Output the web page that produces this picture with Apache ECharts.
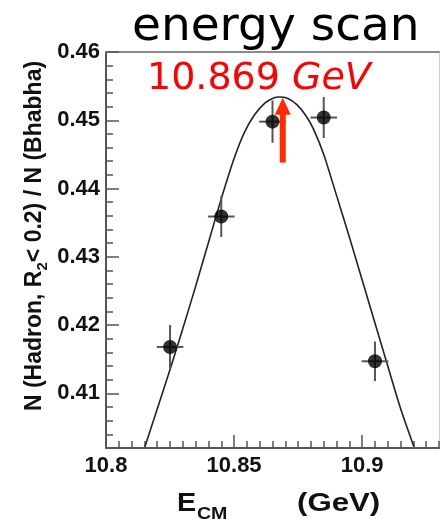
<!DOCTYPE html>
<html><head><meta charset="utf-8">
<script src="https://cdn.jsdelivr.net/npm/echarts@6/dist/echarts.min.js"></script>
<style>html,body{margin:0;padding:0;background:#fff}#c{width:440px;height:521px}</style>
</head><body><div id="c"></div>
<script>
// measured points
const energies = [10.825, 10.845, 10.865, 10.885, 10.905];
const ratios = [0.4168, 0.4359, 0.4498, 0.4504, 0.4147];
const ratioErr = [0.0032, 0.0030, 0.0031, 0.0030, 0.0029];
const energyErr = [0.0052, 0.0052, 0.0052, 0.0052, 0.0052];
// fit curve
const fitX = [10.8152, 10.8200, 10.8250, 10.8300, 10.8350, 10.8400, 10.8450, 10.8500, 10.8540, 10.8580, 10.8620, 10.8650, 10.8677, 10.8710, 10.8745, 10.8780, 10.8810, 10.8850, 10.8900, 10.8950, 10.9000, 10.9050, 10.9100, 10.9150, 10.9202];
const fitY = [0.4022, 0.4077, 0.4135, 0.4195, 0.4257, 0.4321, 0.4385, 0.4444, 0.4482, 0.4508, 0.4525, 0.4532, 0.4534, 0.4532, 0.4523, 0.4507, 0.4487, 0.4450, 0.4390, 0.4329, 0.4266, 0.4203, 0.4140, 0.4078, 0.4022];
// peak marker
const peakEnergy = 10.869;
const arrowRange = [0.4438, 0.4533];
// ticks
const xTickValues = [10.8, 10.85, 10.9];
const yTickValues = [0.41, 0.42, 0.43, 0.44, 0.45, 0.46];
const xRange = [10.8, 10.93];
const yRange = [0.402, 0.46];

const chart = echarts.init(document.getElementById('c'), null, {renderer: 'canvas'});
const labelFont = {fontFamily: '"Liberation Sans", Arial, sans-serif', fontWeight: 'bold', fontSize: 22, color: '#111'};
const tickColor = '#555';

const option = {
  animation: false,
  backgroundColor: '#fff',
  grid: {left: 106, right: 1, top: 52, bottom: 73, show: false},
  xAxis: [
    {type: 'value', min: xRange[0], max: xRange[1], position: 'bottom',
      axisLine: {onZero: false, lineStyle: {color: tickColor, width: 2}},
      axisTick: {inside: true, length: 13, customValues: xTickValues, lineStyle: {color: tickColor, width: 1.5}},
      axisLabel: Object.assign({customValues: xTickValues, margin: 7, formatter: v => String(+(+v).toFixed(3))}, labelFont),
      splitLine: {show: false}},
    {type: 'value', min: xRange[0], max: xRange[1], interval: 0.005, position: 'bottom',
      axisLine: {show: false},
      axisTick: {inside: true, length: 7, lineStyle: {color: tickColor, width: 1.5}},
      axisLabel: {show: false}, splitLine: {show: false}},
    {type: 'value', min: xRange[0], max: xRange[1], position: 'top',
      axisLine: {onZero: false, lineStyle: {color: '#8a8a8a', width: 2}},
      axisTick: {show: false}, axisLabel: {show: false}, splitLine: {show: false}}
  ],
  yAxis: [
    {type: 'value', min: yRange[0], max: yRange[1], position: 'left',
      axisLine: {onZero: false, lineStyle: {color: tickColor, width: 2}},
      axisTick: {inside: true, length: 13, customValues: yTickValues, lineStyle: {color: tickColor, width: 1.5}},
      axisLabel: Object.assign({customValues: yTickValues, margin: 6, formatter: v => (+v).toFixed(2)}, labelFont),
      splitLine: {show: false}},
    {type: 'value', min: yRange[0], max: yRange[1], interval: 0.002, position: 'left',
      axisLine: {show: false},
      axisTick: {inside: true, length: 7, lineStyle: {color: tickColor, width: 1.5}},
      axisLabel: {show: false}, splitLine: {show: false}},
    {type: 'value', min: yRange[0], max: yRange[1], position: 'right',
      axisLine: {onZero: false, lineStyle: {color: '#cfcfcf', width: 1}},
      axisTick: {show: false}, axisLabel: {show: false}, splitLine: {show: false}}
  ],
  series: [
    {type: 'line', xAxisIndex: 0, yAxisIndex: 0, data: fitX.map((x, i) => [x, fitY[i]]),
      showSymbol: false, smooth: 0.25, lineStyle: {color: '#222', width: 1.6}, z: 2, clip: true},
    {type: 'custom', xAxisIndex: 0, yAxisIndex: 0,
      data: energies.map((x, i) => [x, ratios[i], energyErr[i], ratioErr[i]]),
      encode: {x: 0, y: 1},
      renderItem: (params, api) => {
        const x = api.value(0), y = api.value(1), xe = api.value(2), ye = api.value(3);
        const l = api.coord([x - xe, y]), r = api.coord([x + xe, y]);
        const t = api.coord([x, y + ye]), b = api.coord([x, y - ye]);
        const style = {stroke: '#555', lineWidth: 2};
        return {type: 'group', children: [
          {type: 'line', shape: {x1: l[0], y1: l[1], x2: r[0], y2: r[1]}, style},
          {type: 'line', shape: {x1: t[0], y1: t[1], x2: b[0], y2: b[1]}, style}
        ]};
      }, z: 3},
    {type: 'scatter', xAxisIndex: 0, yAxisIndex: 0, data: energies.map((x, i) => [x, ratios[i]]),
      symbolSize: 14, itemStyle: {color: '#000'}, z: 4},
    {type: 'custom', xAxisIndex: 0, yAxisIndex: 0,
      data: [[peakEnergy, arrowRange[0], arrowRange[1]]],
      encode: {x: 0, y: [1, 2]},
      renderItem: (params, api) => {
        const base = api.coord([api.value(0), api.value(1)]);
        const tip = api.coord([api.value(0), api.value(2)]);
        const headH = 17, headW = 16, shaftW = 6;
        const color = '#ff2a00';
        return {type: 'group', children: [
          {type: 'rect', shape: {x: base[0] - shaftW / 2, y: tip[1] + headH - 1, width: shaftW, height: base[1] - tip[1] - headH + 1}, style: {fill: color}},
          {type: 'polygon', shape: {points: [[tip[0], tip[1]], [tip[0] + headW / 2, tip[1] + headH], [tip[0] - headW / 2, tip[1] + headH]]}, style: {fill: color}}
        ]};
      }, z: 5}
  ],
  graphic: [
    {type: 'text', x: 132, y: 28, style: {text: 'energy scan', font: '47px "DejaVu Sans", sans-serif', fill: '#000', verticalAlign: 'middle'}},
    {type: 'text', x: 147, y: 79, z: 10, style: {text: '{a|10.869 }{b|GeV}', verticalAlign: 'middle', fill: '#ff0000',
      rich: {a: {font: '38px "DejaVu Sans", sans-serif', fill: '#ff0000'}, b: {font: 'italic 38px "DejaVu Sans", sans-serif', fill: '#ff0000'}}}},
    {type: 'text', x: 35, y: 236, rotation: Math.PI / 2, style: {text: '{a|N (Hadron, R}{s|2}{a|< 0.2) / N (Bhabha)}', align: 'center', verticalAlign: 'middle',
      rich: {a: {font: 'bold 23px "Liberation Sans", Arial, sans-serif', fill: '#111', lineHeight: 30}, s: {font: 'bold 15px "Liberation Sans", Arial, sans-serif', fill: '#111', verticalAlign: 'bottom', lineHeight: 30}}}},
    {type: 'text', x: 177, y: 504, scaleX: 1.15, style: {text: 'E', font: 'bold 25px "Liberation Sans", Arial, sans-serif', fill: '#111', verticalAlign: 'middle'}},
    {type: 'text', x: 197, y: 514, scaleX: 1.15, style: {text: 'CM', font: 'bold 17px "Liberation Sans", Arial, sans-serif', fill: '#111', verticalAlign: 'middle'}},
    {type: 'text', x: 297, y: 504, scaleX: 1.2, style: {text: '(GeV)', font: 'bold 26px "Liberation Sans", Arial, sans-serif', fill: '#111', verticalAlign: 'middle'}}
  ]
};
chart.setOption(option);
</script></body></html>
